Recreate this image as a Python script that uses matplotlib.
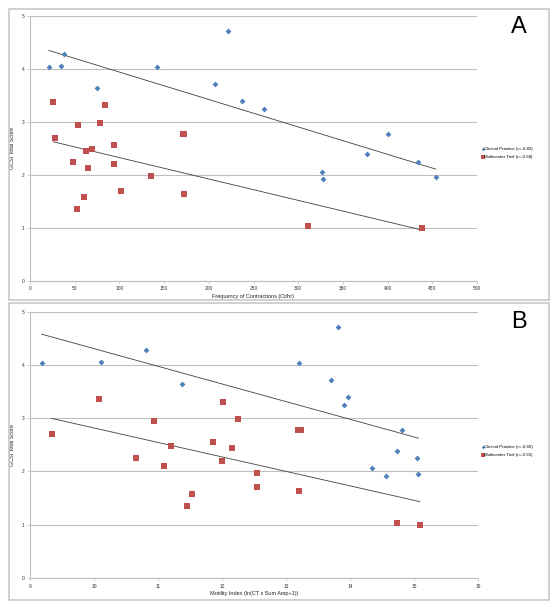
import numpy as np
import matplotlib
matplotlib.use("Agg")
import matplotlib.pyplot as plt
from matplotlib.patches import Rectangle

plt.rcParams['font.family'] = ['Liberation Sans', 'DejaVu Sans']

# Panel A data: Frequency of contractions vs GCSI
a_cp_x = [21, 35, 38, 75, 142, 221, 207, 237, 262, 327, 328, 377, 400, 434, 454]
a_cp_y = [4.03, 4.06, 4.28, 3.64, 4.03, 4.72, 3.72, 3.39, 3.25, 2.05, 1.92, 2.39, 2.78, 2.24, 1.95]
a_mt_x = [26, 28, 48, 54, 53, 60, 63, 65, 69, 78, 84, 94, 94, 102, 135, 171, 172, 172, 311, 439]
a_mt_y = [3.37, 2.70, 2.25, 2.95, 1.36, 1.58, 2.45, 2.12, 2.48, 2.98, 3.31, 2.56, 2.20, 1.70, 1.98, 2.78, 2.78, 1.64, 1.03, 1.00]

# Panel B data: Motility index vs GCSI
b_cp_x = [9.18, 10.11, 10.81, 11.37, 13.82, 13.20, 13.70, 13.97, 13.91, 14.81, 14.74, 15.04, 14.34, 14.57, 15.07]
b_cp_y = [4.03, 4.06, 4.28, 3.64, 4.72, 4.03, 3.72, 3.39, 3.25, 2.78, 2.39, 2.25, 2.06, 1.92, 1.95]
b_mt_x = [9.34, 10.08, 10.65, 10.93, 11.09, 11.20, 11.46, 11.53, 11.86, 12.01, 12.00, 12.16, 12.25, 12.55, 12.55, 13.19, 13.23, 13.20, 14.73, 15.09]
b_mt_y = [2.70, 3.36, 2.25, 2.95, 2.11, 2.47, 1.36, 1.58, 2.55, 3.31, 2.19, 2.45, 2.98, 1.98, 1.70, 2.78, 2.78, 1.64, 1.03, 1.00]

a_labels = ["Clinical Practice (r=-0.82)", "Multicenter Trial (r=-0.58)"]
b_labels = ["Clinical Practice (r=-0.60)", "Multicenter Trial (r=-0.55)"]
a_xticks = [0, 50, 100, 150, 200, 250, 300, 350, 400, 450, 500]
b_xticks = [9, 10, 11, 12, 13, 14, 15, 16]
y_ticks = [0, 1, 2, 3, 4, 5]

BLUE = '#4F81BD'
RED = '#C0504D'
GRID = '#BFBFBF'
W, H = 559, 610

fig = plt.figure(figsize=(W / 100, H / 100), dpi=100)

def fx(p):
    return p / W

def fy(p):
    return 1 - p / H

# panel frames
for (x0, y0, x1, y1) in [(9, 9, 549, 300), (9, 303, 549, 600)]:
    fig.patches.append(Rectangle((fx(x0), fy(y1)), fx(x1 - x0), (y1 - y0) / H,
                                 transform=fig.transFigure, fill=False,
                                 edgecolor='#C8C8C8', linewidth=1.2))

def panel(rect, cx, cy, mx, my, labels, xticks, xlabel, letter, leg_y, letter_y):
    l, t, r, b = rect
    ax = fig.add_axes([fx(l), fy(b), fx(r - l), (b - t) / H])
    ax.scatter(cx, cy, marker='D', s=9, color=BLUE, linewidths=0, zorder=3, label=labels[0])
    ax.scatter(mx, my, marker='s', s=22, color=RED, linewidths=0, zorder=3, label=labels[1])
    for xs, ys in [(cx, cy), (mx, my)]:
        xs = np.asarray(xs, float)
        ys = np.asarray(ys, float)
        k, c = np.polyfit(xs, ys, 1)
        xx = np.array([xs.min(), xs.max()])
        ax.plot(xx, k * xx + c, color='#404040', linewidth=0.6, zorder=2)
    ax.set_xlim(xticks[0], xticks[-1])
    ax.set_ylim(0, 5)
    ax.set_xticks(xticks)
    ax.set_yticks(y_ticks)
    ax.tick_params(labelsize=3.5, length=2, width=0.5, color=GRID, pad=2, labelcolor='#333333')
    ax.yaxis.grid(True, color=GRID, linewidth=0.8)
    ax.set_axisbelow(True)
    for s in ['top', 'right']:
        ax.spines[s].set_visible(False)
    for s in ['left', 'bottom']:
        ax.spines[s].set_color(GRID)
        ax.spines[s].set_linewidth(0.8)
    ax.set_xlabel(xlabel, fontsize=4, labelpad=2, color='#222222')
    ax.set_ylabel('GCSI Total Score', fontsize=4, labelpad=5, color='#222222')
    ax.legend(loc='upper left', bbox_to_anchor=(fx(482), fy(leg_y)),
              bbox_transform=fig.transFigure, fontsize=3.2, frameon=False,
              handlelength=0.4, handletextpad=0.1, labelspacing=0.9,
              borderpad=0, borderaxespad=0, markerscale=0.6)
    fig.text(fx(519), fy(letter_y), letter, fontsize=17, ha='center', va='center')
    return ax

panel((30, 16, 477, 280.7), a_cp_x, a_cp_y, a_mt_x, a_mt_y, a_labels, a_xticks,
      'Frequency of Contractions (Ct/hr)', 'A', 147, 27)
panel((30, 311.7, 478, 578), b_cp_x, b_cp_y, b_mt_x, b_mt_y, b_labels, b_xticks,
      'Motility Index (ln(CT x Sum Amp+1))', 'B', 445, 322)

fig.savefig('out.png', dpi=100, facecolor='white')
